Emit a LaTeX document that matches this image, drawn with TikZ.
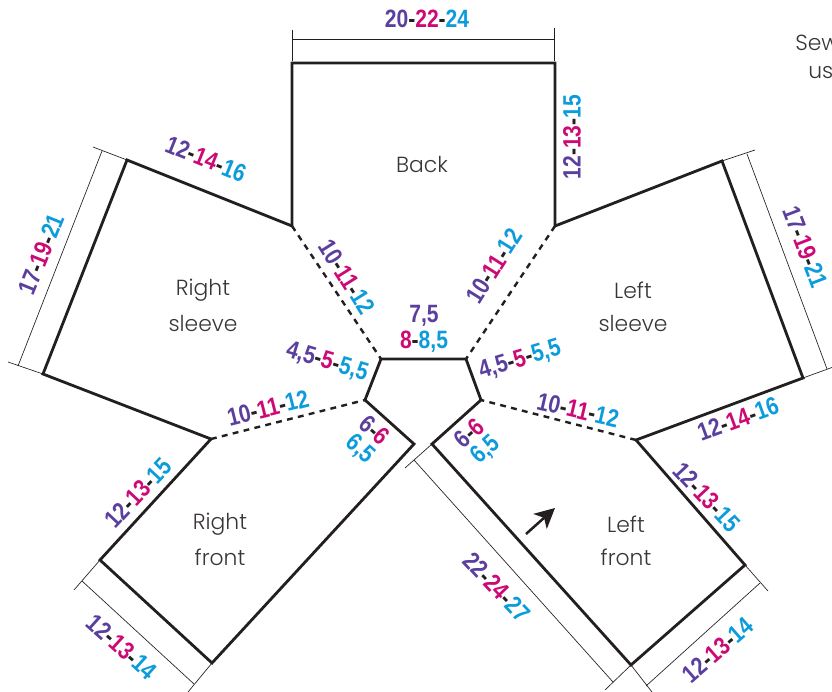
\documentclass[tikz,border=0pt]{standalone}
\usepackage{fontspec}
\setmainfont{Poppins Light}
\newfontfamily\numf[FakeStretch=0.84]{Liberation Sans Bold}
\usetikzlibrary{arrows.meta}
\definecolor{cpurple}{HTML}{5B3F9E}
\definecolor{cmag}{HTML}{CC0A76}
\definecolor{cblue}{HTML}{0C9BDB}
\definecolor{cink}{HTML}{231F20}
\newcommand{\tri}[3]{{\color{cpurple}#1}\hyp{\color{cmag}#2}\hyp{\color{cblue}#3}}
\newcommand{\hyp}{{\color{cink}-}}
\tikzset{
 x=0.75pt,y=-0.75pt,
 seam/.style={draw=cink,line width=2.1pt,line join=miter,line cap=round},
 fold/.style={draw=cink,line width=1.8pt,dash pattern=on 4.4pt off 4pt},
 dimline/.style={draw=cink,line width=0.5pt},
 sz/.style={font=\numf\fontsize{18.8}{20}\selectfont,inner sep=0pt},
 piece/.style={font=\fontsize{16.4}{20}\selectfont,text=cink!90,inner sep=0pt,align=center},
}
\begin{document}
\begin{tikzpicture}
\useasboundingbox (0,0) rectangle (832,692);
% outline corners
\coordinate (bTL) at (292,63); \coordinate (bTR) at (555,63);
\coordinate (bBR) at (555,226); \coordinate (bBL) at (292,226);
\coordinate (lsT) at (722,161); \coordinate (lsB) at (803,378); \coordinate (lsF) at (636,440);
\coordinate (rsT) at (127,160); \coordinate (rsB) at (43,374); \coordinate (rsF) at (211,439);
\coordinate (cTL) at (381,359); \coordinate (cTR) at (466,359);
\coordinate (cR) at (481,400); \coordinate (cL) at (365,400);
\coordinate (nL) at (414,444); \coordinate (nR) at (432,444);
\coordinate (rfB) at (212,663); \coordinate (rfS) at (100,560);
\coordinate (lfB) at (631,665); \coordinate (lfS) at (745,565);
% seams
\draw[seam] (bBL) -- (bTL) -- (bTR) -- (bBR) -- (lsT) -- (lsB) -- (lsF) -- (lfS) -- (lfB) -- (nR) -- (cR) -- (cTR) -- (cTL) -- (cL) -- (nL) -- (rfB) -- (rfS) -- (rsF) -- (rsB) -- (rsT) -- (bBL);
% fold lines
\draw[fold] (bBL) -- (cTL);
\draw[fold] (bBR) -- (cTR);
\draw[fold] (rsF) -- (cL);
\draw[fold] (lsF) -- (cR);
% dimension lines
\coordinate (d1a) at (292,30); \coordinate (d1b) at (554,28);
\coordinate (d1c) at (292,39); \coordinate (d1d) at (554,39);
\draw[dimline] (d1a) -- (292,61); \draw[dimline] (d1b) -- (554,61); \draw[dimline] (d1c) -- (d1d);
\coordinate (d2a) at (93,147); \coordinate (d2b) at (8,362);
\coordinate (d2c) at (102,151); \coordinate (d2d) at (18,366);
\draw[dimline] (rsT) -- (d2a); \draw[dimline] (rsB) -- (d2b); \draw[dimline] (d2c) -- (d2d);
\coordinate (d3a) at (755,150); \coordinate (d3b) at (836,366);
\coordinate (d3c) at (747,154); \coordinate (d3d) at (827,369);
\draw[dimline] (lsT) -- (d3a); \draw[dimline] (lsB) -- (d3b); \draw[dimline] (d3c) -- (d3d);
\coordinate (d4a) at (74,590); \coordinate (d4b) at (188,692);
\coordinate (d4c) at (82,581); \coordinate (d4d) at (194,684);
\draw[dimline] (rfS) -- (d4a); \draw[dimline] (rfB) -- (d4b); \draw[dimline] (d4c) -- (d4d);
\coordinate (d5a) at (405,468); \coordinate (d5b) at (605,690);
\coordinate (d5c) at (414,460); \coordinate (d5d) at (613,682);
\draw[dimline] (nR) -- (d5a); \draw[dimline] (lfB) -- (d5b); \draw[dimline] (d5c) -- (d5d);
\coordinate (d6a) at (652,692); \coordinate (d6b) at (768,591);
\coordinate (d6c) at (646,686); \coordinate (d6d) at (760,583);
\draw[dimline] (lfB) -- (d6a); \draw[dimline] (lfS) -- (d6b); \draw[dimline] (d6c) -- (d6d);
% grain arrow
\coordinate (gA) at (526,534); \coordinate (gB) at (555,508);
\draw[draw=cink,line width=1.9pt,-{Stealth[length=15pt,width=15pt,inset=4pt]}] (gA) -- (gB);
% piece names
\node[piece] (tBack) at (422,164) {Back};
\node[piece] (tRS1) at (203,290) {Right}; \node[piece] (tRS2) at (203,323) {sleeve};
\node[piece] (tLS1) at (633,290) {Left}; \node[piece] (tLS2) at (633,323) {sleeve};
\node[piece] (tRF1) at (220,524) {Right}; \node[piece] (tRF2) at (220,557) {front};
\node[piece] (tLF1) at (626,524) {Left}; \node[piece] (tLF2) at (626,557) {front};
\node[piece,anchor=west] (tS1) at (795,43) {Sew};
\node[piece,anchor=west] (tS2) at (808,70) {usi};
% sizes
\node[sz] (s1) at (427,19) {\tri{20}{22}{24}};
\node[sz,rotate=90] (s2) at (572,137) {\tri{12}{13}{15}};
\node[sz,rotate=-22] (s3) at (206,159) {\tri{12}{14}{16}};
\node[sz,rotate=68] (s4) at (41,254) {\tri{17}{19}{21}};
\node[sz,rotate=-58] (s5) at (347,277) {\tri{10}{11}{12}};
\node[sz,rotate=58] (s6) at (494,266) {\tri{10}{11}{12}};
\node[sz,rotate=-69] (s7) at (805,247) {\tri{17}{19}{21}};
\node[sz] (s8) at (424,316) {\textcolor{cpurple}{7,5}};
\node[sz] (s9) at (424,342) {\textcolor{cmag}{8}\hyp\textcolor{cblue}{8,5}};
\node[sz,rotate=-17] (s10) at (327,362) {\tri{4,5}{5}{5,5}};
\node[sz,rotate=17] (s11) at (520,360) {\tri{4,5}{5}{5,5}};
\node[sz,rotate=14] (s12) at (268,408) {\tri{10}{11}{12}};
\node[sz,rotate=-13] (s13) at (578,410) {\tri{10}{11}{12}};
\node[sz,rotate=20] (s14) at (738,419) {\tri{12}{14}{16}};
\node[sz,rotate=-42] (s15) at (375,430) {\textcolor{cpurple}{6}\hyp\textcolor{cmag}{6}};
\node[sz,rotate=-42] (s16) at (360,449) {\textcolor{cblue}{6,5}};
\node[sz,rotate=42] (s17) at (469,433) {\textcolor{cpurple}{6}\hyp\textcolor{cmag}{6}};
\node[sz,rotate=42] (s18) at (486,450) {\textcolor{cblue}{6,5}};
\node[sz,rotate=47] (s19) at (138,493) {\tri{12}{13}{15}};
\node[sz,rotate=-42] (s20) at (122,647) {\tri{12}{13}{14}};
\node[sz,rotate=-47] (s21) at (497,587) {\tri{22}{24}{27}};
\node[sz,rotate=-47] (s22) at (707,497) {\tri{12}{13}{15}};
\node[sz,rotate=41] (s23) at (718,650) {\tri{12}{13}{14}};
\end{tikzpicture}
\end{document}
